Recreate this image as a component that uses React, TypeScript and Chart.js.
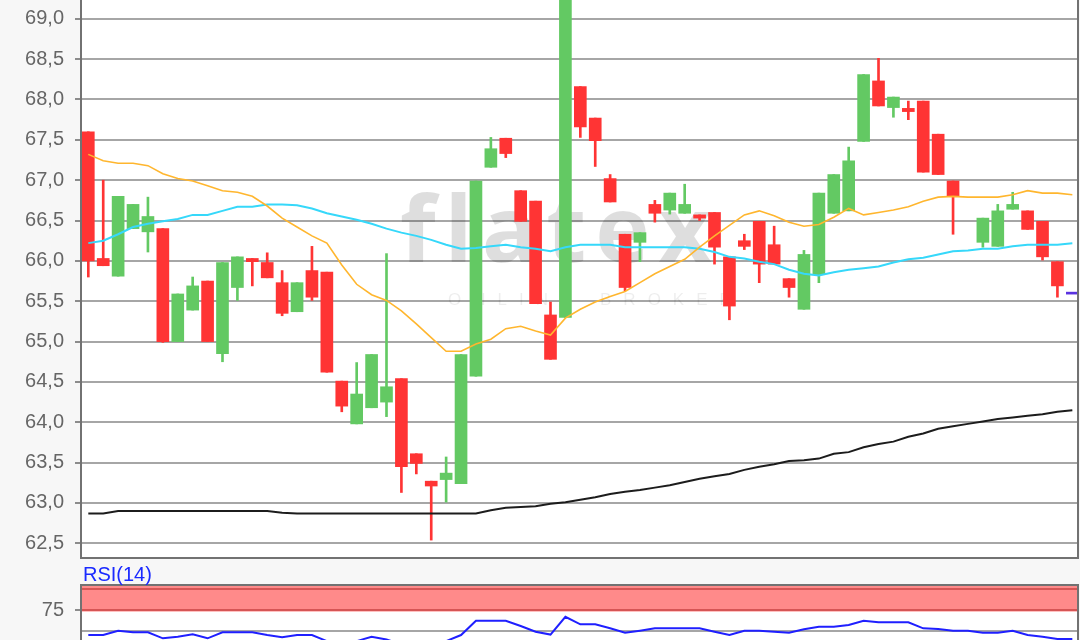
import React, { useEffect, useRef } from "react";
import { Chart, registerables } from "chart.js";

Chart.register(...registerables);

// trading sessions (slot index on the x axis); slot 67 = current quote
const sessions = [
  1, 2, 3, 4, 5, 6, 7, 8, 9, 10, 11, 12, 13, 14, 15, 16, 17, 18, 19, 20,
  21, 22, 23, 24, 25, 26, 27, 28, 29, 30, 31, 32, 33, 34, 35, 36, 37, 38, 39, 40,
  41, 42, 43, 44, 45, 46, 47, 48, 49, 50, 51, 52, 53, 54, 55, 56, 57, 58, 59, 60,
  61, 62, 63, 64, 65, 66, 67,
];

const opens = [
  67.6, 66.03, 65.81, 66.4, 66.36, 66.4, 65.0, 65.39, 65.75, 64.85,
  65.67, 66.03, 65.98, 65.73, 65.37, 65.88, 65.86, 64.51, 63.98, 64.18,
  64.25, 64.54, 63.61, 63.27, 63.29, 63.24, 64.57, 67.16, 67.52, 66.87,
  66.74, 65.33, 65.3, 68.16, 67.77, 67.02, 66.33, 66.23, 66.7, 66.63,
  66.59, 66.57, 66.6, 66.05, 66.25, 66.49, 66.2, 65.78, 65.4, 65.83,
  66.59, 66.62, 67.48, 68.23, 67.9, 67.89, 67.98, 67.57, 66.99, null,
  66.23, 66.18, 66.64, 66.62, 66.49, 65.99, null,
];
const highs = [
  67.6, 67.0, 66.8, 66.7, 66.79, 66.4, 65.59, 65.8, 65.75, 65.98,
  66.05, 66.03, 66.1, 65.88, 65.73, 66.18, 65.86, 64.51, 64.74, 64.84,
  66.09, 64.54, 63.61, 63.27, 63.57, 64.84, 66.99, 67.53, 67.52, 66.87,
  66.74, 65.49, 69.6, 68.16, 67.77, 67.07, 66.33, 66.35, 66.75, 66.84,
  66.95, 66.57, 66.6, 66.05, 66.33, 66.49, 66.43, 65.78, 66.13, 66.84,
  67.07, 67.41, 68.31, 68.51, 68.03, 67.98, 67.98, 67.57, 66.99, null,
  66.53, 66.7, 66.85, 66.62, 66.49, 65.99, null,
];
const lows = [
  65.8, 65.94, 65.81, 66.4, 66.11, 64.99, 65.0, 65.39, 65.0, 64.75,
  65.51, 65.69, 65.79, 65.32, 65.37, 65.51, 64.62, 64.13, 63.98, 64.18,
  64.07, 63.13, 63.36, 62.54, 63.01, 63.24, 64.57, 67.16, 67.28, 66.49,
  65.47, 64.78, 65.3, 67.53, 67.17, 66.73, 65.63, 65.99, 66.48, 66.58,
  66.59, 66.5, 65.96, 65.27, 66.14, 65.73, 65.96, 65.55, 65.4, 65.73,
  66.59, 66.62, 67.48, 67.92, 67.78, 67.75, 67.1, 67.07, 66.33, null,
  66.17, 66.18, 66.64, 66.39, 66.01, 65.55, null,
];
const closes = [
  66.0, 65.94, 66.8, 66.7, 66.55, 65.0, 65.59, 65.69, 65.0, 65.98,
  66.05, 65.99, 65.79, 65.35, 65.73, 65.55, 64.62, 64.2, 64.35, 64.84,
  64.44, 63.45, 63.49, 63.21, 63.37, 64.84, 66.99, 67.39, 67.33, 66.49,
  65.47, 64.78, 69.6, 67.66, 67.49, 66.73, 65.67, 66.35, 66.59, 66.84,
  66.7, 66.53, 66.17, 65.44, 66.18, 65.96, 65.96, 65.67, 66.08, 66.84,
  67.07, 67.24, 68.31, 67.92, 68.03, 67.85, 67.1, 67.07, 66.8, null,
  66.53, 66.62, 66.7, 66.39, 66.05, 65.69, null,
];

const maShort = [
  67.32, 67.24, 67.21, 67.21, 67.18, 67.08, 67.02, 66.99, 66.93, 66.87,
  66.85, 66.8, 66.68, 66.53, 66.42, 66.31, 66.22, 65.95, 65.71, 65.58,
  65.51, 65.38, 65.22, 65.05, 64.88, 64.88, 64.97, 65.03, 65.16, 65.19,
  65.13, 65.08, 65.29, 65.4, 65.49, 65.56, 65.62, 65.73, 65.84, 65.93,
  66.02, 66.17, 66.31, 66.44, 66.57, 66.62, 66.56, 66.48, 66.43, 66.45,
  66.54, 66.65, 66.57, 66.6, 66.63, 66.67, 66.74, 66.79, 66.8, 66.79,
  66.79, 66.79, 66.82, 66.87, 66.84, 66.84, 66.82,
];
const maMid = [
  66.22, 66.25, 66.33, 66.42, 66.46, 66.49, 66.52, 66.57, 66.57, 66.62,
  66.67, 66.67, 66.7, 66.7, 66.69, 66.65, 66.59, 66.55, 66.51, 66.46,
  66.4, 66.35, 66.31, 66.26, 66.2, 66.15, 66.16, 66.18, 66.2, 66.17,
  66.15, 66.12, 66.17, 66.2, 66.2, 66.2, 66.17, 66.17, 66.17, 66.17,
  66.17, 66.15, 66.11, 66.05, 66.03, 65.99, 65.96, 65.89, 65.84, 65.82,
  65.86, 65.89, 65.91, 65.93, 65.98, 66.02, 66.04, 66.08, 66.12, 66.13,
  66.15, 66.15, 66.18, 66.2, 66.2, 66.2, 66.22,
];
const maLong = [
  62.87, 62.87, 62.9, 62.9, 62.9, 62.9, 62.9, 62.9, 62.9, 62.9,
  62.9, 62.9, 62.9, 62.88, 62.87, 62.87, 62.87, 62.87, 62.87, 62.87,
  62.87, 62.87, 62.87, 62.87, 62.87, 62.87, 62.87, 62.91, 62.94, 62.95,
  62.96, 62.99, 63.01, 63.04, 63.07, 63.11, 63.14, 63.16, 63.19, 63.22,
  63.26, 63.3, 63.33, 63.36, 63.41, 63.45, 63.48, 63.52, 63.53, 63.55,
  63.61, 63.63, 63.69, 63.73, 63.76, 63.82, 63.86, 63.92, 63.95, 63.98,
  64.01, 64.04, 64.06, 64.08, 64.1, 64.13, 64.15,
];
const rsi14 = [
  45.2, 45.2, 50.4, 48.4, 48.4, 41.3, 43.2, 46.1, 41.3, 48.4,
  48.4, 48.4, 45.2, 42.5, 45.2, 45.2, 38.0, 35.0, 38.0, 43.2,
  40.0, 34.0, 33.0, 31.0, 38.0, 45.2, 62.3, 62.3, 62.3, 56.0,
  49.2, 45.8, 67.0, 58.0, 58.0, 53.2, 48.0, 50.4, 53.2, 53.2,
  53.2, 53.2, 49.2, 45.2, 50.4, 50.4, 49.2, 48.0, 52.0, 55.1,
  55.1, 57.1, 62.3, 60.4, 60.4, 60.4, 53.2, 52.5, 50.4, 50.4,
  48.0, 48.0, 50.4, 45.2, 43.2, 40.5, 40.5,
];

const lastQuoteSlot = 67;
const lastQuote = 65.6;

const priceTicks = [62.5, 63, 63.5, 64, 64.5, 65, 65.5, 66, 66.5, 67, 67.5, 68, 68.5, 69];
const rsiTicks = [50, 75];
const rsiOverbought = 75;
const rsiCeiling = 100;

const GREEN = "#63c963";
const RED = "#ff3434";
const FRAME = "#727272";
const GRID = "#a6a6a6";
const FONT = '"Liberation Sans", Arial, sans-serif';

export default function App() {
  const mainRef = useRef<HTMLCanvasElement>(null);
  const rsiRef = useRef<HTMLCanvasElement>(null);

  useEffect(() => {
    Chart.defaults.font.family = FONT;
    const idx = sessions.map((_, i) => i).filter((i) => opens[i] !== null);
    const colors = idx.map((i) => ((closes[i] as number) >= (opens[i] as number) ? GREEN : RED));
    const bodies = idx.map((i) => ({ x: sessions[i], y: [opens[i], closes[i]] }));
    const wicks = idx.map((i) => ({ x: sessions[i], y: [lows[i], highs[i]] }));
    const line = (arr: number[]) => arr.map((v, i) => ({ x: sessions[i], y: v }));

    const fitLeft = (scale: any) => {
      scale.width = 81;
      scale.paddingTop = 0;
      scale.paddingBottom = 0;
    };

    const mainDecor = {
      id: "mainDecor",
      beforeDraw(chart: any) {
        const { ctx, chartArea: a } = chart;
        ctx.save();
        ctx.fillStyle = "#ffffff";
        ctx.fillRect(a.left, a.top, a.right - a.left, a.bottom - a.top);
        ctx.restore();
      },
      beforeDatasetsDraw(chart: any) {
        const { ctx, chartArea: a } = chart;
        ctx.save();
        ctx.beginPath();
        ctx.rect(a.left, a.top, a.right - a.left, a.bottom - a.top);
        ctx.clip();
        ctx.fillStyle = "rgba(0,0,0,0.13)";
        ctx.font = 'bold 92px "Open Sans", sans-serif';
        (ctx as any).letterSpacing = "9px";
        ctx.textBaseline = "alphabetic";
        ctx.fillText("flatex", 400, 262);
        ctx.fillStyle = "rgba(0,0,0,0.07)";
        ctx.font = '17px "Liberation Sans", sans-serif';
        (ctx as any).letterSpacing = "12px";
        ctx.fillText("ONLINE BROKER", 448, 305);
        ctx.restore();
      },
      afterDraw(chart: any) {
        const { ctx, chartArea: a } = chart;
        ctx.save();
        ctx.strokeStyle = FRAME;
        ctx.lineWidth = 2;
        ctx.beginPath();
        ctx.moveTo(a.left, a.top - 2);
        ctx.lineTo(a.left, a.bottom);
        ctx.lineTo(a.right, a.bottom);
        ctx.lineTo(a.right, a.top - 2);
        ctx.stroke();
        ctx.restore();
      },
    };

    const main = new Chart(mainRef.current as HTMLCanvasElement, {
      type: "bar",
      data: {
        datasets: [
          {
            type: "line",
            data: line(maShort),
            borderColor: "#ffb62e",
            borderWidth: 1.6,
            pointRadius: 0,
            tension: 0,
            order: 0,
          } as any,
          {
            type: "line",
            data: line(maMid),
            borderColor: "#36d8fa",
            borderWidth: 2,
            pointRadius: 0,
            tension: 0,
            order: 0,
          } as any,
          {
            type: "line",
            data: line(maLong),
            borderColor: "#1c1c1c",
            borderWidth: 2,
            pointRadius: 0,
            tension: 0,
            order: 0,
          } as any,
          {
            type: "bar",
            data: [{ x: lastQuoteSlot, y: [lastQuote - 0.012, lastQuote + 0.012] }],
            backgroundColor: "#5a32e0",
            barThickness: 12,
            grouped: false,
            minBarLength: 2,
            order: 0,
          } as any,
          {
            type: "bar",
            data: bodies,
            backgroundColor: colors,
            barThickness: 12,
            grouped: false,
            minBarLength: 3,
            borderWidth: 0,
            order: 1,
          } as any,
          {
            type: "bar",
            data: wicks,
            backgroundColor: colors,
            barThickness: 2,
            grouped: false,
            borderWidth: 0,
            order: 2,
          } as any,
        ],
      },
      options: {
        animation: false,
        responsive: false,
        devicePixelRatio: 1,
        layout: { padding: { top: 0, bottom: 2, left: 0, right: 2 } },
        plugins: { legend: { display: false }, tooltip: { enabled: false } },
        scales: {
          x: {
            type: "linear",
            min: 0.51,
            max: 67.38,
            offset: false,
            display: false,
          },
          y: {
            min: 62.318,
            max: 69.233,
            afterFit: fitLeft,
            afterBuildTicks: (scale: any) => {
              scale.ticks = priceTicks.map((v) => ({ value: v }));
            },
            ticks: {
              color: "#666666",
              font: { size: 20, family: FONT },
              padding: 11,
              callback: (v: any) => Number(v).toFixed(1).replace(".", ","),
            },
            grid: { color: GRID, lineWidth: 2, tickLength: 6, tickColor: "#8c8c8c" },
            border: { display: false },
          },
        },
      } as any,
      plugins: [mainDecor],
    });

    const rsiDecor = {
      id: "rsiDecor",
      beforeDraw(chart: any) {
        const { ctx, chartArea: a } = chart;
        ctx.save();
        ctx.fillStyle = "#ffffff";
        ctx.fillRect(a.left, a.top, a.right - a.left, a.bottom - a.top);
        ctx.restore();
      },
      beforeDatasetsDraw(chart: any) {
        const { ctx, chartArea: a, scales } = chart;
        const y75 = scales.y.getPixelForValue(rsiOverbought);
        const y100 = scales.y.getPixelForValue(rsiCeiling);
        ctx.save();
        ctx.fillStyle = "#ff8a8a";
        ctx.fillRect(a.left, a.top, a.right - a.left, y75 + 1.5 - a.top);
        ctx.strokeStyle = "#d65555";
        ctx.lineWidth = 2;
        ctx.beginPath();
        ctx.moveTo(a.left, y100);
        ctx.lineTo(a.right, y100);
        ctx.moveTo(a.left, y75);
        ctx.lineTo(a.right, y75);
        ctx.stroke();
        ctx.restore();
      },
      afterDraw(chart: any) {
        const { ctx, chartArea: a } = chart;
        ctx.save();
        ctx.strokeStyle = FRAME;
        ctx.lineWidth = 2;
        ctx.beginPath();
        ctx.moveTo(a.left, a.bottom + 10);
        ctx.lineTo(a.left, a.top);
        ctx.lineTo(a.right, a.top);
        ctx.lineTo(a.right, a.bottom + 10);
        ctx.stroke();
        ctx.fillStyle = "#1a2aff";
        ctx.font = `20px ${FONT}`;
        ctx.textBaseline = "alphabetic";
        ctx.fillText("RSI(14)", 83, 21);
        ctx.restore();
      },
    };

    const rsi = new Chart(rsiRef.current as HTMLCanvasElement, {
      type: "line",
      data: {
        datasets: [
          {
            data: line(rsi14),
            borderColor: "#1f1fff",
            borderWidth: 2,
            pointRadius: 0,
            tension: 0,
          },
        ],
      },
      options: {
        animation: false,
        responsive: false,
        devicePixelRatio: 1,
        layout: { padding: { top: 25, bottom: 7, left: 0, right: 2 } },
        plugins: { legend: { display: false }, tooltip: { enabled: false } },
        scales: {
          x: { type: "linear", min: 0.51, max: 67.38, display: false },
          y: {
            min: 0,
            max: 104.8,
            afterFit: fitLeft,
            afterBuildTicks: (scale: any) => {
              scale.ticks = rsiTicks.map((v) => ({ value: v }));
            },
            ticks: {
              color: "#666666",
              font: { size: 20, family: FONT },
              padding: 11,
              callback: (v: any) => (Number(v) === rsiOverbought ? String(v) : ""),
            },
            grid: {
              color: (c: any) => (c.tick && c.tick.value === rsiOverbought ? "rgba(0,0,0,0)" : GRID),
              tickColor: (c: any) => (c.tick && c.tick.value === rsiOverbought ? "#8c8c8c" : "rgba(0,0,0,0)"),
              lineWidth: 2,
              tickLength: 6,
            },
            border: { display: false },
          },
        },
      } as any,
      plugins: [rsiDecor],
    });

    return () => {
      main.destroy();
      rsi.destroy();
    };
  }, []);

  return (
    <div
      style={{
        position: "fixed",
        left: 0,
        top: 0,
        width: 1080,
        height: 640,
        overflow: "hidden",
        background: "#f7f7f7",
      }}
    >
      <canvas ref={mainRef} width={1080} height={560} style={{ position: "absolute", left: 0, top: 0 }} />
      <canvas ref={rsiRef} width={1080} height={120} style={{ position: "absolute", left: 0, top: 560 }} />
    </div>
  );
}
